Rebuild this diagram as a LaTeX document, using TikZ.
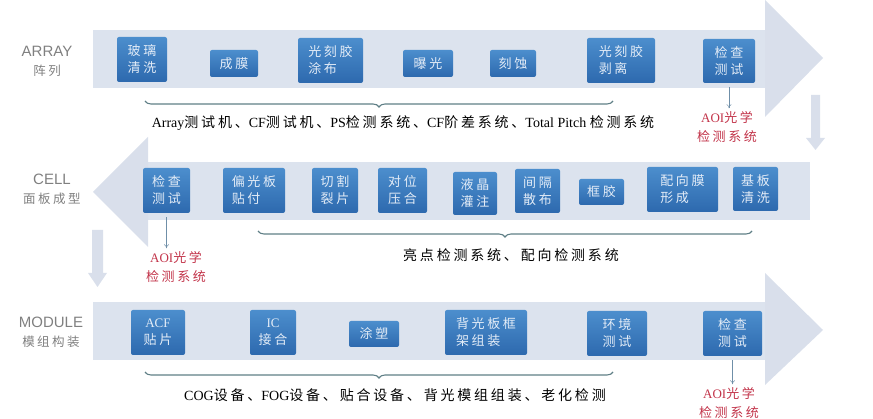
\documentclass[tikz,border=0pt]{standalone}
\usepackage{fontspec}
\setmainfont{Liberation Serif}
\newfontfamily\cjk[LetterSpace=20]{Noto Sans CJK SC}
\newfontfamily\lsans{Liberation Sans}
\usetikzlibrary{decorations.pathreplacing,calc,positioning,arrows.meta}
\definecolor{bandblue}{HTML}{DCE3EE}
\definecolor{headblue}{HTML}{D9DFEB}
\definecolor{boxtop}{HTML}{4C8ECD}
\definecolor{boxbot}{HTML}{2D69AE}
\definecolor{boxtext}{HTML}{E3ECF7}
\definecolor{aoired}{HTML}{C2344A}
\definecolor{bracecol}{HTML}{5F7F86}
\definecolor{labelgray}{HTML}{808080}
\definecolor{linkcol}{HTML}{6F8FA8}
\newcommand{\zh}[1]{{\cjk #1}}

\begin{document}
\begin{tikzpicture}
	[x=1pt,y=-1pt,
	stage/.style={shape=rectangle,rounded corners=2pt,top color=boxtop,bottom color=boxbot,
		text=boxtext,inner sep=0pt,align=left,font=\cjk\fontsize{13}{17}\selectfont},
	sz/.style 2 args={minimum width=#1pt,minimum height=#2pt},
	aoi/.style={text=aoired,align=center,inner sep=1pt,font=\fontsize{13}{19}\selectfont},
	note/.style={inner sep=1pt,font=\fontsize{14}{16}\selectfont},
	stagelabel/.style={text=labelgray,align=center,inner sep=1pt,font=\lsans\fontsize{15}{19}\selectfont},
	brace/.style={decorate,decoration={brace,mirror,amplitude=6pt},bracecol,line width=1.1pt},
	link/.style={-{To[length=4pt,width=5pt]},linkcol,thin,shorten <=4pt,shorten >=2pt}]

	\useasboundingbox (0,0) rectangle (873,419);

	% bands
	\fill[bandblue] (93,30) rectangle (765,88);
	\fill[headblue] (765,0) -- (823,58) -- (765,117) -- cycle;
	\fill[bandblue] (148,162) rectangle (810,220);
	\fill[headblue] (148,137) -- (93,192) -- (148,247) -- cycle;
	\fill[bandblue] (93,302) rectangle (765,360);
	\fill[headblue] (765,273) -- (823,330) -- (765,385) -- cycle;
	\fill[headblue] (811,95) -- (820,95) -- (820,138) -- (825,138) -- (815.5,150)
		-- (806,138) -- (811,138) -- cycle;
	\fill[headblue] (92,230) -- (103,230) -- (103,273) -- (107,273) -- (97.5,287)
		-- (88,273) -- (92,273) -- cycle;

	% ARRAY
	\node[stagelabel] (lblA) at (47,61) {ARRAY\\{\cjk\fontsize{12.5}{14}\selectfont 阵列}};
	\node[stage,sz={50}{45}] (glass) at (142,59.5) {玻璃\\清洗};
	\node[stage,sz={48}{27}] (film) at (234,63.5) {成膜};
	\node[stage,sz={65}{45}] (coat) at (330.5,60.5) {光刻胶\\涂布};
	\node[stage,sz={50}{27}] (expose) at (428,63.5) {曝光};
	\node[stage,sz={46}{27}] (etch) at (513,63.5) {刻蚀};
	\node[stage,sz={68}{45}] (strip) at (621,60.5) {光刻胶\\剥离};
	\node[stage,sz={52}{44}] (chkA) at (729,61) {检查\\测试};
	\draw[brace] (145,101) -- (613,101);
	\node[note] (noteA) at (403,123) {Array\zh{测试机、}CF\zh{测试机、}PS\zh{检测系统、}CF\zh{阶差系统、}Total Pitch \zh{检测系统}};
	\node[aoi] (aoiA) at (727,127) {AOI\zh{光学}\\\zh{检测系统}};
	\draw[link] (chkA) -- (chkA |- aoiA.north);

	% CELL
	\node[stagelabel] (lblB) at (52,189) {CELL\\{\cjk\fontsize{12.5}{14}\selectfont 面板成型}};
	\node[stage,sz={47}{45}] (chkB) at (166.5,190.5) {检查\\测试};
	\node[stage,sz={62}{45}] (polar) at (254,190.5) {偏光板\\贴付};
	\node[stage,sz={46}{45}] (cut) at (335,190.5) {切割\\裂片};
	\node[stage,sz={49}{45}] (press) at (402.5,190.5) {对位\\压合};
	\node[stage,sz={44}{43}] (lc) at (475,193.5) {液晶\\灌注};
	\node[stage,sz={45}{44}] (spacer) at (537.5,191) {间隔\\散布};
	\node[stage,sz={45}{26}] (seal) at (601.5,192) {框胶};
	\node[stage,sz={71}{45}] (pi) at (682.5,189.5) {配向膜\\形成};
	\node[stage,sz={45}{44}] (clean) at (755.5,189) {基板\\清洗};
	\draw[brace] (258,231) -- (752,231);
	\node[note] (noteB) at (511,255) {\zh{亮点检测系统、配向检测系统}};
	\node[aoi] (aoiB) at (176,267) {AOI\zh{光学}\\\zh{检测系统}};
	\draw[link] (chkB) -- (chkB |- aoiB.north);

	% MODULE
	\node[stagelabel] (lblC) at (51,332) {MODULE\\{\cjk\fontsize{12.5}{14}\selectfont 模组构装}};
	\node[stage,sz={54}{45},align=center] (acf) at (158,332.5) {{\rmfamily ACF}\\贴片};
	\node[stage,sz={46}{45},align=center] (ic) at (273,332.5) {{\rmfamily IC}\\接合};
	\node[stage,sz={50}{26}] (mold) at (374,334) {涂塑};
	\node[stage,sz={82}{45}] (frame) at (486,332.5) {背光板框\\架组装};
	\node[stage,sz={60}{45}] (env) at (617,333.5) {环境\\测试};
	\node[stage,sz={59}{45}] (chkC) at (732.5,333.5) {检查\\测试};
	\draw[brace] (145,372) -- (613,372);
	\node[note] (noteC) at (395,395) {COG\zh{设备、}FOG\zh{设备、贴合设备、背光模组组装、老化检测}};
	\node[aoi] (aoiC) at (729,403) {AOI\zh{光学}\\\zh{检测系统}};
	\draw[link] (chkC) -- (chkC |- aoiC.north);
\end{tikzpicture}
\end{document}
